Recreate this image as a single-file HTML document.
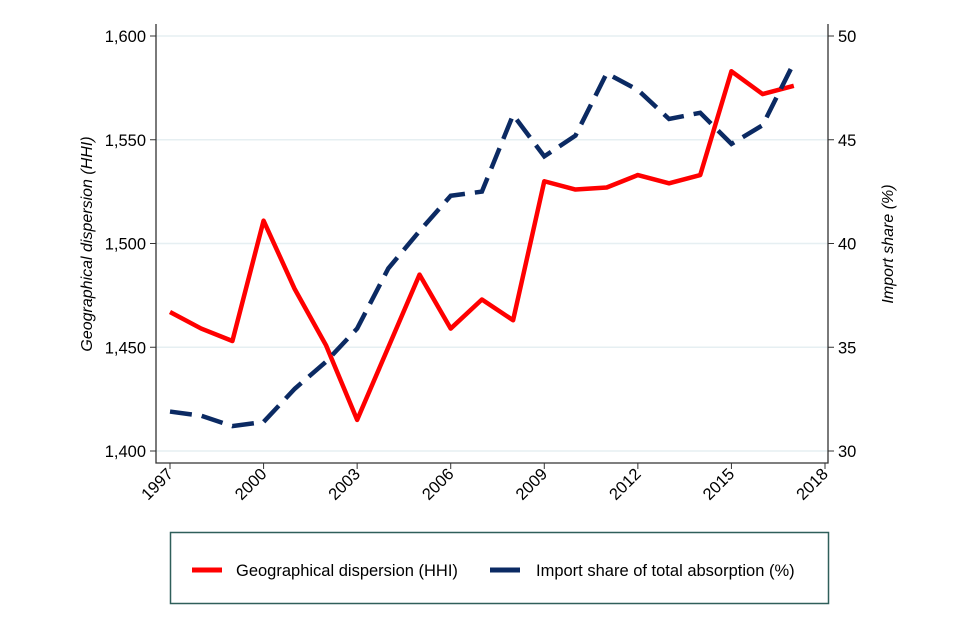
<!DOCTYPE html>
<html><head><meta charset="utf-8"><style>
body{margin:0;background:#fff}
svg{display:block;font-family:"Liberation Sans",Arial,sans-serif}
</style></head><body>
<svg id="chart" width="960" height="640">
<g id="grid"></g>
<g id="axes"></g>
<g id="series"></g>
<g>
<rect x="170.5" y="532.5" width="658" height="71" fill="#fff" stroke="#2f5f5a" stroke-width="1.5"/>
<line x1="192" y1="570" x2="222" y2="570" stroke="#ff0000" stroke-width="5"/>
<text x="236" y="576" font-size="16.5" fill="#000">Geographical dispersion (HHI)</text>
<line x1="490" y1="570" x2="520" y2="570" stroke="#0b2a63" stroke-width="5"/>
<text x="536" y="576" font-size="16.5" fill="#000">Import share of total absorption (%)</text>
</g>
<text transform="translate(92,244) rotate(-90)" text-anchor="middle" font-size="16" font-style="italic">Geographical dispersion (HHI)</text>
<text transform="translate(893,244) rotate(-90)" text-anchor="middle" font-size="16" font-style="italic">Import share (%)</text>
</svg>
<script>
const years=[1997,1998,1999,2000,2001,2002,2003,2004,2005,2006,2007,2008,2009,2010,2011,2012,2013,2014,2015,2016,2017];
const hhi=[1467,1459,1453,1511,1478,1451,1415,1450,1485,1459,1473,1463,1530,1526,1527,1533,1529,1533,1583,1572,1576];
const importShare=[31.9,31.7,31.2,31.4,33.0,34.3,35.9,38.8,40.6,42.3,42.5,46.2,44.2,45.2,48.2,47.4,46.0,46.3,44.8,45.7,48.7];
const xTicks=[1997,2000,2003,2006,2009,2012,2015,2018];
const leftTicks=[1400,1450,1500,1550,1600];
const rightTicks=[30,35,40,45,50];
const NS="http://www.w3.org/2000/svg";
const X0=156,X1=828,YB=463,YT=24;
function xs(y){return 170+(y-1997)*(825-170)/21;}
function yl(v){return 451-(v-1400)*(451-36)/200;}
function yr(v){return 451-(v-30)*(451-36)/20;}
function mk(tag,attrs,parent){const e=document.createElementNS(NS,tag);for(const k in attrs)e.setAttribute(k,attrs[k]);parent.appendChild(e);return e;}
const grid=document.getElementById('grid'),axes=document.getElementById('axes'),series=document.getElementById('series');
leftTicks.forEach(v=>{
 const g=mk('line',{x1:X0,x2:X1,y1:yl(v),y2:yl(v),stroke:'#e6eff2','stroke-width':1.5},grid);
 
 
 mk('line',{x1:X0-6,x2:X0,y1:yl(v),y2:yl(v),stroke:'#333'},axes);
 const t=mk('text',{x:X0-10,y:yl(v)+6,'text-anchor':'end','font-size':16.5},axes);
 t.textContent=v.toLocaleString('en-US');
 
 
});
rightTicks.forEach(v=>{
 mk('line',{x1:X1,x2:X1+6,y1:yr(v),y2:yr(v),stroke:'#333'},axes);
 const t=mk('text',{x:X1+10,y:yr(v)+6,'font-size':16.5},axes);
 t.textContent=v;
 
 
});
xTicks.forEach(v=>{
 const x=xs(v);
 mk('line',{x1:x,x2:x,y1:YB,y2:YB+6,stroke:'#333'},axes);
 const t=mk('text',{x:x+4,y:YB+12,'text-anchor':'end','font-size':16.5,transform:`rotate(-45 ${x+4} ${YB+12})`},axes);
 t.textContent=v;
 
 
});
const ax=mk('path',{d:`M${X0},${YT}V${YB}H${X1}V${YT}`,fill:'none',stroke:'#333','stroke-width':1.3},axes);


const p1=mk('polyline',{points:years.map((y,i)=>xs(y)+','+yl(hhi[i])).join(' '),fill:'none',stroke:'#ff0000','stroke-width':4.5,'stroke-linejoin':'round'},series);


const p2=mk('polyline',{points:years.map((y,i)=>xs(y)+','+yr(importShare[i])).join(' '),fill:'none',stroke:'#0b2a63','stroke-width':4.5,'stroke-dasharray':'22 10'},series);


</script>
</body></html>
